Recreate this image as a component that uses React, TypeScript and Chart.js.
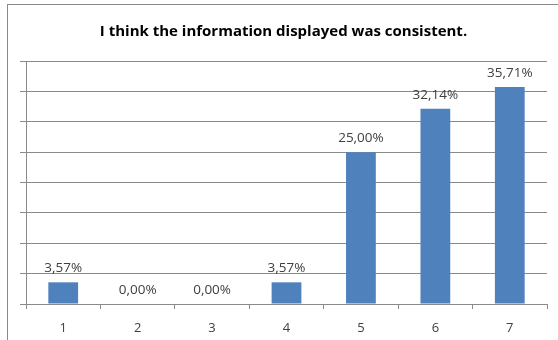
import React, { useEffect, useRef } from "react";
import { Chart, registerables } from "chart.js";

Chart.register(...registerables);

const categories = ["1", "2", "3", "4", "5", "6", "7"];
const values = [3.57, 0, 0, 3.57, 25.0, 32.14, 35.71];
const titleText = "I think the information displayed was consistent.";
const FONT = "'Open Sans', 'Noto Sans', sans-serif";

const framePlugin = {
  id: "frame",
  beforeDraw(chart: any) {
    const ctx = chart.ctx;
    ctx.save();
    ctx.fillStyle = "#ffffff";
    ctx.fillRect(0, 0, chart.width, chart.height);
    ctx.strokeStyle = "#8a8a8a";
    ctx.lineWidth = 1;
    ctx.strokeRect(7.5, 4.5, 700, 500);
    ctx.restore();
  },
};

const labelPlugin = {
  id: "barLabels",
  afterDatasetsDraw(chart: any) {
    const ctx = chart.ctx;
    const meta = chart.getDatasetMeta(0);
    ctx.save();
    ctx.font = `13.5px ${FONT}`;
    ctx.fillStyle = "#404040";
    ctx.textAlign = "center";
    ctx.textBaseline = "alphabetic";
    meta.data.forEach((bar: any, i: number) => {
      const txt = values[i].toFixed(2).replace(".", ",") + "%";
      ctx.fillText(txt, bar.x, bar.y - 10);
    });
    ctx.restore();
  },
};

export default function App() {
  const ref = useRef<HTMLCanvasElement>(null);
  useEffect(() => {
    const chart = new Chart(ref.current!, {
      type: "bar",
      data: {
        labels: categories,
        datasets: [
          {
            data: values,
            backgroundColor: "#4F81BD",
            borderWidth: 0,
            categoryPercentage: 1,
            barPercentage: 0.4,
          },
        ],
      },
      options: {
        animation: false,
        responsive: false,
        layout: { padding: { left: 20, right: 11, top: 0, bottom: 0 } },
        plugins: {
          legend: { display: false },
          tooltip: { enabled: false },
          title: {
            display: true,
            text: titleText,
            color: "#000000",
            font: { family: FONT, size: 15, weight: "bold", lineHeight: 1.2 },
            padding: { top: 23, bottom: 20 },
          },
        },
        scales: {
          x: {
            offset: true,
            grid: {
              offset: true,
              drawOnChartArea: false,
              drawTicks: true,
              tickLength: 5,
              color: "#8a8a8a",
            },
            border: { color: "#8a8a8a" },
            ticks: { color: "#404040", font: { family: FONT, size: 13 }, padding: 11 },
            afterFit: (scale: any) => {
              scale.height = 36;
            },
          },
          y: {
            min: 0,
            max: 40,
            ticks: { stepSize: 5, display: false },
            grid: { color: "#8a8a8a", tickLength: 6, drawTicks: true },
            border: { color: "#8a8a8a" },
          },
        },
      },
      plugins: [framePlugin, labelPlugin],
    });
    return () => chart.destroy();
  }, []);
  return (
    <div style={{ position: "absolute", left: 0, top: 0, width: 558, height: 340 }}>
      <canvas ref={ref} width={558} height={340} style={{ display: "block" }} />
    </div>
  );
}
